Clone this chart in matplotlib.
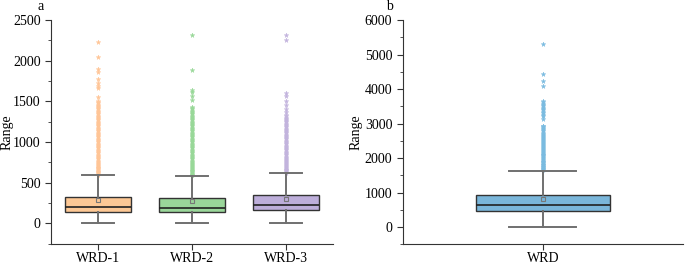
import matplotlib.pyplot as plt
from matplotlib.ticker import MultipleLocator

plt.rcParams['font.family'] = ['Liberation Serif', 'DejaVu Serif']
plt.rcParams['font.size'] = 10

# panel a
labels_a = ['WRD-1', 'WRD-2', 'WRD-3']
q1_a = [139, 134, 163]
med_a = [200, 187, 224]
q3_a = [321, 309, 341]
mean_a = [285, 268, 292]
whislo_a = [0, 0, 0]
whishi_a = [589, 582, 613]
fliers_a = [
    [595, 605, 615, 625, 635, 645, 655, 665, 675, 685, 695, 705, 715, 725, 740, 755,
     770, 785, 800, 815, 830, 845, 860, 875, 890, 905, 920, 935, 950, 965, 980, 995,
     1010, 1025, 1040, 1055, 1070, 1085, 1100, 1115, 1130, 1145, 1160, 1175, 1190,
     1205, 1220, 1235, 1250, 1265, 1280, 1295, 1310, 1325, 1340, 1355, 1370, 1385,
     1400, 1415, 1430, 1445, 1460, 1475, 1490, 1508, 1549, 1658, 1691, 1731, 1772,
     1861, 1894, 2044, 2226],
    [588, 598, 608, 618, 628, 638, 648, 658, 668, 678, 690, 702, 714, 726, 740, 755,
     770, 785, 800, 815, 830, 845, 860, 875, 890, 905, 920, 935, 950, 965, 980, 995,
     1010, 1025, 1040, 1055, 1070, 1085, 1100, 1115, 1130, 1145, 1160, 1175, 1190,
     1205, 1220, 1235, 1250, 1265, 1280, 1295, 1310, 1325, 1340, 1355, 1370, 1385,
     1400, 1414, 1427, 1521, 1569, 1610, 1642, 1886, 2320],
    [620, 630, 640, 650, 660, 670, 680, 690, 700, 712, 724, 736, 748, 760, 775, 790,
     805, 820, 835, 850, 865, 880, 895, 910, 925, 940, 955, 970, 985, 1000, 1015,
     1030, 1045, 1060, 1075, 1090, 1105, 1120, 1135, 1150, 1165, 1180, 1195, 1210,
     1225, 1240, 1255, 1270, 1285, 1300, 1313, 1326, 1367, 1399, 1456, 1504, 1569,
     1602, 2255, 2320],
]
colors_a = ['#FDC895', '#9AD69A', '#BDAEDA']
flier_colors_a = ['#FFC596', '#98D898', '#C2B3DD']

# panel b
q1_b = 480
med_b = 641
q3_b = 928
mean_b = 805
whislo_b = 0
whishi_b = 1638
fliers_b = [1650, 1670, 1690, 1710, 1730, 1750, 1770, 1790, 1810, 1830, 1850, 1875,
            1900, 1925, 1950, 1975, 2000, 2025, 2050, 2075, 2100, 2125, 2150, 2175,
            2200, 2230, 2260, 2290, 2320, 2350, 2380, 2410, 2440, 2470, 2500, 2530,
            2560, 2590, 2620, 2650, 2680, 2710, 2740, 2770, 2800, 2830, 2860, 2890,
            2920, 2940, 3132, 3227, 3260, 3300, 3340, 3380, 3420, 3460, 3500, 3540,
            3580, 3620, 3658, 4090, 4233, 4425, 5316]

fig = plt.figure(figsize=(6.85, 2.65), dpi=100)
ax1 = fig.add_axes([0.0745, 0.078, 0.4117, 0.8465])
ax2 = fig.add_axes([0.588, 0.078, 0.409, 0.8465])


def draw(ax, stats, positions, width, colors, fcolors, capw):
    bp = ax.bxp(stats, positions=positions, widths=width, patch_artist=True,
                showmeans=True, showfliers=True,
                boxprops=dict(edgecolor='#333333', linewidth=1.0),
                medianprops=dict(color='#222222', linewidth=1.2),
                whiskerprops=dict(color='#707070', linewidth=1.4),
                capprops=dict(color='#707070', linewidth=1.4),
                meanprops=dict(marker='s', markersize=3, markerfacecolor='none',
                               markeredgecolor='#777777', markeredgewidth=0.8),
                capwidths=capw)
    for patch, c in zip(bp['boxes'], colors):
        patch.set_facecolor(c)
    for fl, c in zip(bp['fliers'], fcolors):
        fl.set(marker='*', markersize=3.5, markerfacecolor=c, markeredgecolor=c,
               markeredgewidth=0.3, zorder=1.5)


stats_a = []
for i in range(3):
    stats_a.append(dict(label=labels_a[i], q1=q1_a[i], med=med_a[i], q3=q3_a[i],
                        mean=mean_a[i], whislo=whislo_a[i], whishi=whishi_a[i],
                        fliers=fliers_a[i]))
draw(ax1, stats_a, [1, 2, 3], 0.7, colors_a, flier_colors_a, 0.35)
ax1.set_xlim(0.5, 3.5)
ax1.set_ylim(-260, 2500)
ax1.yaxis.set_major_locator(MultipleLocator(500))
ax1.yaxis.set_minor_locator(MultipleLocator(250))

stats_b = [dict(label='WRD', q1=q1_b, med=med_b, q3=q3_b, mean=mean_b,
                whislo=whislo_b, whishi=whishi_b, fliers=fliers_b)]
draw(ax2, stats_b, [1], 0.48, ['#7AB6DA'], ['#7ABBE0'], 0.24)
ax2.set_xlim(0.5, 1.5)
ax2.set_ylim(-500, 6000)
ax2.yaxis.set_major_locator(MultipleLocator(1000))
ax2.yaxis.set_minor_locator(MultipleLocator(500))

for ax, lx in ((ax1, -0.132), (ax2, -0.142)):
    ax.spines['top'].set_visible(False)
    ax.spines['right'].set_visible(False)
    for s in ('left', 'bottom'):
        ax.spines[s].set_color('#333333')
    ax.tick_params(axis='both', which='major', length=4, color='#333333', labelsize=10)
    ax.tick_params(axis='x', which='major', pad=1.5)
    ax.tick_params(axis='y', which='minor', length=2, color='#333333')
    ax.set_ylabel('Range', fontsize=10)
    ax.yaxis.set_label_coords(lx, 0.5)

fig.text(0.06, 0.975, 'a', fontsize=10, ha='center', va='center')
fig.text(0.569, 0.975, 'b', fontsize=10, ha='center', va='center')

fig.savefig('out.png', dpi=100)
